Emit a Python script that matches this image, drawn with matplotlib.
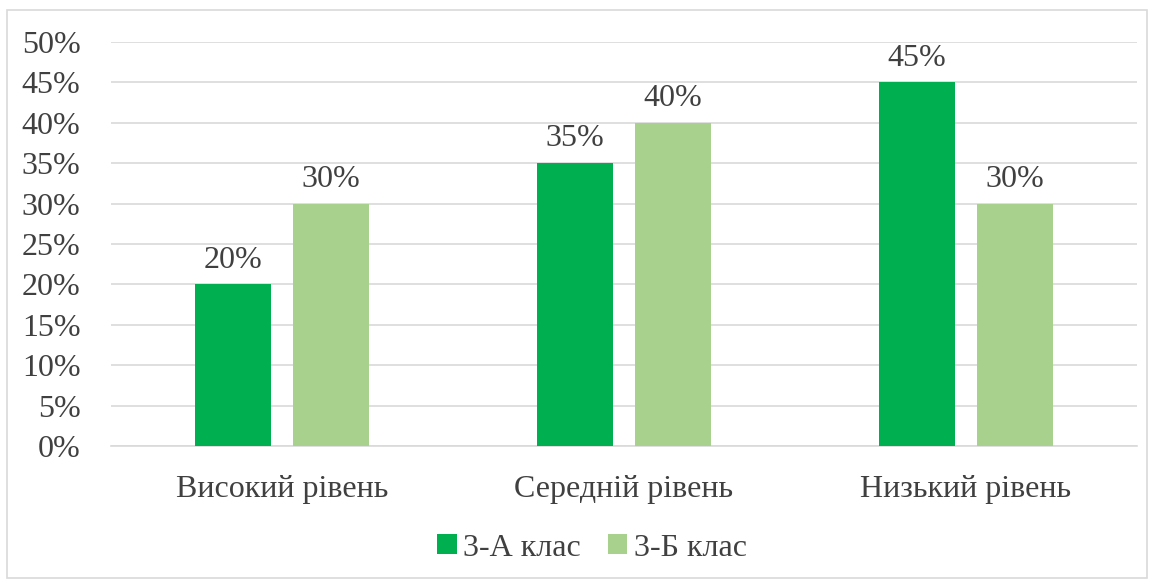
import matplotlib
matplotlib.use("Agg")
import matplotlib.pyplot as plt
from matplotlib.patches import Rectangle
import numpy as np

categories = ["Високий рівень", "Середній рівень", "Низький рівень"]
series_names = ["3-А клас", "3-Б клас"]
values_a = [20, 35, 45]
values_b = [30, 40, 30]
yticks = [0, 5, 10, 15, 20, 25, 30, 35, 40, 45, 50]

colors = ["#00B050", "#A9D18E"]
text_color = "#404040"
grid_color = "#D9D9D9"

plt.rcParams['font.family'] = ['Liberation Serif', 'DejaVu Serif']

fig = plt.figure(figsize=(11.55, 5.81), dpi=100)
fig.patches.append(Rectangle((7/1155, 3/581), 1140/1155, 568/581, transform=fig.transFigure,
                             fill=False, edgecolor=grid_color, linewidth=1.2))
ax = fig.add_axes([111/1155, 1 - 446/581, 1026/1155, (446 - 42)/581])

x = np.arange(len(categories))
w = 0.222
off = 0.143
b1 = ax.bar(x - off, values_a, w, color=colors[0], label=series_names[0], zorder=3)
b2 = ax.bar(x + off, values_b, w, color=colors[1], label=series_names[1], zorder=3)

fs = 23
for bars, vals in ((b1, values_a), (b2, values_b)):
    for bar, v in zip(bars, vals):
        ax.annotate(f"{v}%", (bar.get_x() + bar.get_width() / 2, v), xytext=(0, 7),
                    textcoords="offset points", ha="center", va="bottom",
                    fontsize=fs, color=text_color)

ax.set_xlim(-0.5, 2.5)
ax.set_ylim(0, 50)
ax.set_yticks(yticks)
ax.set_yticklabels([f"{t}%" for t in yticks])
ax.set_xticks(x)
ax.set_xticklabels(categories)
ax.tick_params(axis='both', length=0, labelsize=fs, labelcolor=text_color)
ax.tick_params(axis='y', pad=22)
ax.tick_params(axis='x', pad=21)
ax.yaxis.grid(True, color=grid_color, linewidth=1.2, zorder=0)
for s in ("top", "right", "left"):
    ax.spines[s].set_visible(False)
ax.spines["bottom"].set_color(grid_color)
ax.spines["bottom"].set_linewidth(1.2)

leg = fig.legend(handles=[b1, b2], labels=series_names, loc="center",
                 bbox_to_anchor=(592/1155, 1 - 548/581), ncol=2, frameon=False,
                 fontsize=fs, handlelength=0.6, handleheight=0.6, handletextpad=0.2,
                 columnspacing=0.85, labelcolor=text_color)

fig.savefig("out.png", dpi=100)
